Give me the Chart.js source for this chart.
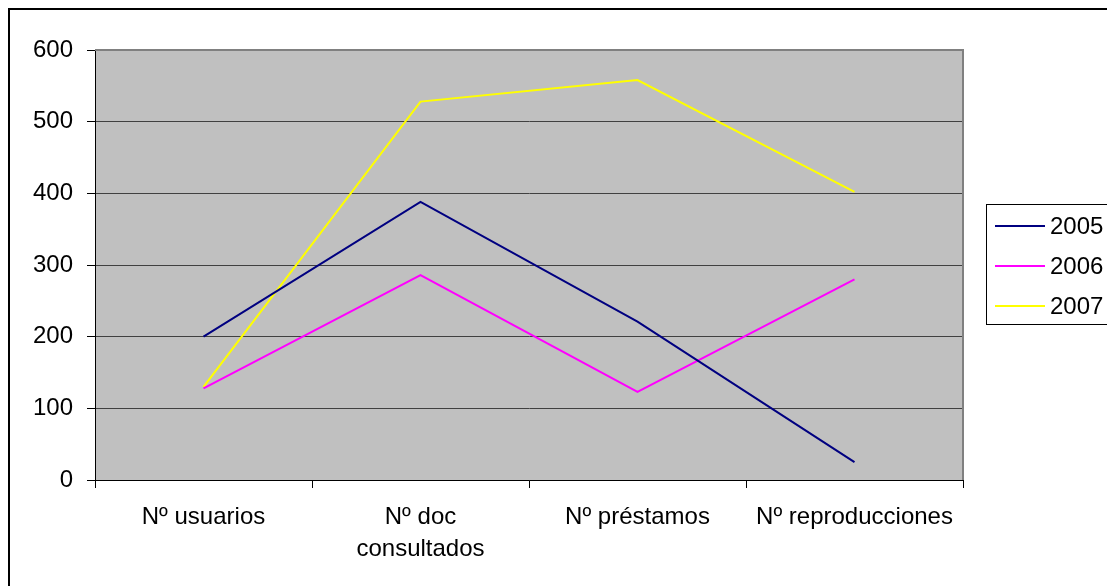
<!DOCTYPE html>
<html>
<head>
<meta charset="utf-8">
<script src="https://cdn.jsdelivr.net/npm/chart.js@4"></script>
<style>
  html, body { margin: 0; padding: 0; background: #fff; }
  #chart { display: block; }
</style>
</head>
<body>
<canvas id="chart" width="1107" height="586"></canvas>
<script>
const categories = ["Nº usuarios", ["Nº doc", "consultados"], "Nº préstamos", "Nº reproducciones"];
const seriesNames = ["2005", "2006", "2007"];
const values2005 = [200, 388, 221, 25];
const values2006 = [128, 286, 123, 280];
const values2007 = [130, 528, 558, 402];
const seriesColors = ["#000080", "#FF00FF", "#FFFF00"];
const yTicks = [0, 100, 200, 300, 400, 500, 600];

const FONT = "'Liberation Sans', Arial, sans-serif";

const frame = {
    id: "frame",
    beforeDraw(chart) {
        const { ctx, chartArea: a } = chart;
        ctx.save();
        ctx.fillStyle = "#fff";
        ctx.fillRect(0, 0, chart.width, chart.height);
        ctx.strokeStyle = "#000";
        ctx.lineWidth = 2;
        ctx.strokeRect(9, 9, chart.width + 50, chart.height + 50);
        ctx.fillStyle = "#C0C0C0";
        ctx.fillRect(a.left, a.top, a.right - a.left, a.bottom - a.top);
        ctx.restore();
    },
    afterDatasetsDraw(chart) {
        const { ctx, chartArea: a } = chart;
        ctx.save();
        ctx.strokeStyle = "#808080";
        ctx.lineWidth = 2;
        ctx.beginPath();
        ctx.moveTo(a.left, a.top);
        ctx.lineTo(a.right, a.top);
        ctx.lineTo(a.right, a.bottom);
        ctx.stroke();
        ctx.restore();
    }
};

const boxLegend = {
    id: "boxLegend",
    afterDraw(chart) {
        const ctx = chart.ctx;
        const x = 986, y = 204, w = 140, h = 120;
        ctx.save();
        ctx.fillStyle = "#fff";
        ctx.fillRect(x, y, w, h);
        ctx.strokeStyle = "#000";
        ctx.lineWidth = 1;
        ctx.strokeRect(x + 0.5, y + 0.5, w, h);
        ctx.font = "24px " + FONT;
        ctx.textBaseline = "middle";
        chart.data.datasets.forEach((ds, i) => {
            const ry = 226 + i * 40;
            ctx.strokeStyle = ds.borderColor;
            ctx.lineWidth = 2;
            ctx.beginPath();
            ctx.moveTo(995, ry);
            ctx.lineTo(1045, ry);
            ctx.stroke();
            ctx.fillStyle = "#000";
            ctx.fillText(ds.label, 1050, ry + 1);
        });
        ctx.restore();
    }
};

new Chart(document.getElementById("chart"), {
    type: "line",
    data: {
        labels: categories,
        datasets: [values2005, values2006, values2007].map((d, i) => ({
            label: seriesNames[i],
            data: d,
            borderColor: seriesColors[i],
            borderWidth: 2,
            pointRadius: 0,
            tension: 0,
            fill: false
        }))
    },
    options: {
        responsive: false,
        animation: false,
        devicePixelRatio: 1,
        layout: { padding: { left: 0, top: 50, right: 144, bottom: 0 } },
        plugins: { legend: { display: false }, tooltip: { enabled: false } },
        scales: {
            x: {
                offset: true,
                afterFit(scale) { scale.height = 106; },
                grid: { offset: true, drawOnChartArea: false, color: "#000", tickLength: 8 },
                border: { color: "#000", width: 1 },
                ticks: { color: "#000", font: { family: FONT, size: 24, lineHeight: 1.33 }, padding: 13, maxRotation: 0, autoSkip: false }
            },
            y: {
                min: 0,
                max: 600,
                afterFit(scale) { scale.width = 95; },
                afterBuildTicks(scale) { scale.ticks = yTicks.map(v => ({ value: v })); },
                grid: { color: "#404040", tickColor: "#000", tickLength: 8 },
                border: { color: "#000", width: 1 },
                ticks: { color: "#000", font: { family: FONT, size: 24 }, padding: 14 }
            }
        }
    },
    plugins: [frame, boxLegend]
});
</script>
</body>
</html>
